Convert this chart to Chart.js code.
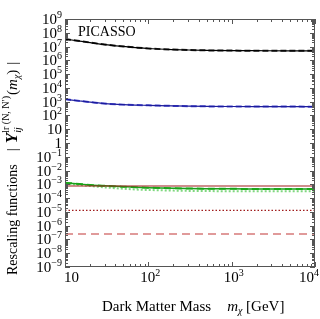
<!DOCTYPE html>
<html lang="en">
<head>
  <meta charset="UTF-8">
  <title>Rescaling functions PICASSO</title>
  <script src="https://cdn.jsdelivr.net/npm/chart.js"></script>
  <style>
    body { margin: 0; background: #fff; }
    #wrap { width: 320px; height: 319px; }
  </style>
</head>
<body>
  <div id="wrap"><canvas id="chart" width="320" height="319"></canvas></div>

  <script>
    // Dark matter masses (GeV) sampled along the curves
    const masses = [10, 15, 20, 30, 50, 70, 100, 200, 300, 500, 1000, 2000, 5000, 10000];

    // Series
    const blackCurve = [3.5e7, 2.5e7, 1.95e7, 1.4e7, 1.02e7, 8.5e6, 7.2e6, 6.0e6, 5.6e6, 5.3e6, 5.1e6, 5.0e6, 4.9e6, 4.9e6];
    const blueCurve = [1500, 1120, 920, 730, 610, 565, 540, 490, 470, 455, 445, 440, 438, 435];
    const greenCurve = [1.3e-3, 1.05e-3, 9.0e-4, 7.8e-4, 6.7e-4, 6.1e-4, 5.7e-4, 5.2e-4, 5.0e-4, 4.85e-4, 4.7e-4, 4.65e-4, 4.6e-4, 4.6e-4];
    const lightGreenCurve = [1.2e-3, 9.0e-4, 7.5e-4, 6.0e-4, 4.8e-4, 4.2e-4, 3.9e-4, 3.5e-4, 3.35e-4, 3.25e-4, 3.15e-4, 3.1e-4, 3.1e-4, 3.1e-4];
    const redSolid = [7.6e-4, 7.6e-4, 7.6e-4, 7.6e-4, 7.6e-4, 7.6e-4, 7.6e-4, 7.6e-4, 7.6e-4, 7.6e-4, 7.6e-4, 7.6e-4, 7.6e-4, 7.6e-4];
    const redDotted = [1.3e-5, 1.3e-5, 1.3e-5, 1.3e-5, 1.3e-5, 1.3e-5, 1.3e-5, 1.3e-5, 1.3e-5, 1.3e-5, 1.3e-5, 1.3e-5, 1.3e-5, 1.3e-5];
    const redDashed = [2.5e-7, 2.5e-7, 2.5e-7, 2.5e-7, 2.5e-7, 2.5e-7, 2.5e-7, 2.5e-7, 2.5e-7, 2.5e-7, 2.5e-7, 2.5e-7, 2.5e-7, 2.5e-7];

    // Tick label exponents
    const xDecades = [1, 2, 3, 4];
    const yDecades = [-9, -8, -7, -6, -5, -4, -3, -2, -1, 0, 1, 2, 3, 4, 5, 6, 7, 8, 9];

    const SERIF = '"Liberation Serif", "DejaVu Serif", serif';

    function pts(arr) {
      return masses.map((m, i) => ({ x: m, y: arr[i] }));
    }

    function line(label, arr, color, width, dash) {
      return {
        label: label,
        data: pts(arr),
        borderColor: color,
        borderWidth: width,
        borderDash: dash || [],
        pointRadius: 0,
        fill: false,
        cubicInterpolationMode: 'monotone'
      };
    }

    // pieces for a power of ten label
    function powPieces(e) {
      if (e === 0) return [{ t: '1', f: '15px ' + SERIF, dy: 0 }];
      if (e === 1) return [{ t: '10', f: '15px ' + SERIF, dy: 0 }];
      return [
        { t: '10', f: '15px ' + SERIF, dy: 0 },
        { t: String(e).replace('-', '\u2212'), f: '10px ' + SERIF, dy: -6 }
      ];
    }

    function piecesWidth(ctx, pieces) {
      let w = 0;
      pieces.forEach(p => { ctx.font = p.f; if (!p.back) w += ctx.measureText(p.t).width + (p.gap || 0); });
      return w;
    }

    // draws text pieces one after another on a baseline
    function drawPieces(ctx, pieces, x, y, align) {
      const total = piecesWidth(ctx, pieces);
      let cx = x;
      if (align === 'center') cx = x - total / 2;
      if (align === 'right') cx = x - total;
      let lastW = 0;
      pieces.forEach(p => {
        ctx.font = p.f;
        ctx.textAlign = 'left';
        ctx.textBaseline = 'alphabetic';
        const w = ctx.measureText(p.t).width;
        if (p.back) {
          ctx.fillText(p.t, cx - lastW, y + p.dy);
          cx += Math.max(0, w - lastW);
        } else {
          cx += p.gap || 0;
          ctx.fillText(p.t, cx, y + p.dy);
          cx += w;
        }
        lastW = w;
      });
    }

    // Frame, inside ticks, tick labels and titles drawn by hand
    const decorations = {
      id: 'decorations',
      afterDraw(chart) {
        const ctx = chart.ctx;
        const a = chart.chartArea;
        const xs = chart.scales.x, ys = chart.scales.y;
        ctx.save();
        ctx.strokeStyle = '#555';
        ctx.lineWidth = 1;
        ctx.strokeRect(a.left + 0.5, a.top + 0.5, a.right - a.left - 1, a.bottom - a.top - 1);

        ctx.beginPath();
        for (let d = 1; d <= 4; d++) {
          for (let k = 1; k <= 9; k++) {
            const v = k * Math.pow(10, d);
            if (v > 10000) continue;
            const px = Math.round(xs.getPixelForValue(v)) + 0.5;
            const len = k === 1 ? 5 : 3;
            ctx.moveTo(px, a.bottom); ctx.lineTo(px, a.bottom - len);
            ctx.moveTo(px, a.top); ctx.lineTo(px, a.top + len);
          }
        }
        for (let d = -9; d <= 9; d++) {
          for (let k = 1; k <= 9; k++) {
            const v = k * Math.pow(10, d);
            if (v > 1.0001e9) continue;
            const py = Math.round(ys.getPixelForValue(v)) + 0.5;
            const len = k === 1 ? 5 : 3;
            ctx.moveTo(a.left, py); ctx.lineTo(a.left + len, py);
            ctx.moveTo(a.right, py); ctx.lineTo(a.right - len, py);
          }
        }
        ctx.stroke();

        ctx.fillStyle = '#000';
        // y tick labels
        yDecades.forEach(e => {
          const py = ys.getPixelForValue(Math.pow(10, e));
          drawPieces(ctx, powPieces(e), a.left - 3, py + 5, 'right');
        });
        // x tick labels
        xDecades.forEach(e => {
          const px = xs.getPixelForValue(Math.pow(10, e));
          if (e === 1) drawPieces(ctx, powPieces(e), px - 1, a.bottom + 15, 'left');
          else if (e === 4) drawPieces(ctx, powPieces(e), 319, a.bottom + 15, 'right');
          else drawPieces(ctx, powPieces(e), px + 2, a.bottom + 15, 'center');
        });

        // experiment label
        ctx.font = '14px ' + SERIF;
        ctx.textAlign = 'left';
        ctx.textBaseline = 'alphabetic';
        ctx.fillText('PICASSO', a.left + 13, a.top + 17);

        // x title
        drawPieces(ctx, [
          { t: 'Dark Matter Mass', f: '15px ' + SERIF, dy: 0 },
          { t: 'm', f: 'italic 15px ' + SERIF, dy: 0, gap: 16 },
          { t: 'χ', f: 'italic 10px ' + SERIF, dy: 3 },
          { t: ' [GeV]', f: '15px ' + SERIF, dy: 0 }
        ], 102, 311, 'left');

        // y title, rotated
        ctx.translate(17, a.bottom + 8);
        ctx.rotate(-Math.PI / 2);
        drawPieces(ctx, [
          { t: 'Rescaling functions', f: '14px ' + SERIF, dy: 0 },
          { t: '|', f: '15px ' + SERIF, dy: 0, gap: 13 },
          { t: 'Y', f: 'italic bold 17px ' + SERIF, dy: 0, gap: 5 },
          { t: 'ij', f: 'italic 10px ' + SERIF, dy: 4 },
          { t: 'lr (N, N′)', f: '10px ' + SERIF, dy: -8, back: true },
          { t: '(', f: '15px ' + SERIF, dy: 0, gap: 1 },
          { t: 'm', f: 'italic 15px ' + SERIF, dy: 0 },
          { t: 'χ', f: 'italic 10px ' + SERIF, dy: 3 },
          { t: ')', f: '15px ' + SERIF, dy: 0 },
          { t: '|', f: '15px ' + SERIF, dy: 0, gap: 5 }
        ], 0, 0, 'left');
        ctx.restore();
      }
    };

    const chart = new Chart(document.getElementById('chart').getContext('2d'), {
      type: 'line',
      data: {
        datasets: [
          line('black solid', blackCurve, '#000000', 1.2),
          line('black dashed', blackCurve, '#222222', 2, [6, 3]),
          line('blue solid', blueCurve, '#1c1c9c', 1.2),
          line('blue dashed', blueCurve, '#4a4ad0', 2, [6, 3]),
          line('red solid', redSolid, '#a01c1c', 1.2),
          line('green solid', greenCurve, '#1aa01a', 1.5),
          line('green dashed', greenCurve, '#22b822', 2, [7, 4]),
          line('light green dotted', lightGreenCurve, '#7fd87f', 2, [2, 2]),
          line('red dotted', redDotted, '#a01c1c', 1.2, [1.5, 2]),
          line('red dashed', redDashed, '#d67a7a', 1.4, [8, 5])
        ]
      },
      options: {
        responsive: false,
        animation: false,
        layout: { padding: { top: 19, right: 5, left: 0, bottom: 0 } },
        plugins: {
          legend: { display: false },
          tooltip: { enabled: false }
        },
        scales: {
          x: {
            type: 'logarithmic',
            min: 10,
            max: 10000,
            grid: { display: false },
            border: { display: false },
            ticks: { display: false },
            afterFit: s => { s.height = 52; }
          },
          y: {
            type: 'logarithmic',
            min: 1e-9,
            max: 1e9,
            grid: { display: false },
            border: { display: false },
            ticks: { display: false },
            afterFit: s => { s.width = 65; }
          }
        }
      },
      plugins: [decorations]
    });
  </script>
</body>
</html>
